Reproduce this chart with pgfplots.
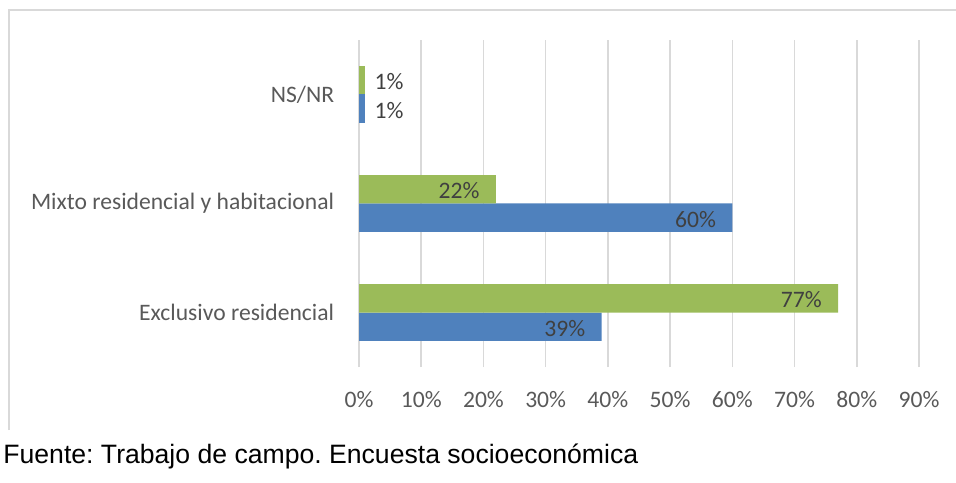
\documentclass[border=0pt]{standalone}
\usepackage{pgfplots}
\pgfplotsset{compat=1.18}
\usepackage{fontspec}
\setmainfont{Carlito}
\newfontfamily\arial{Liberation Sans}
\definecolor{cgreen}{HTML}{9BBB59}
\definecolor{cblue}{HTML}{4F81BD}
\definecolor{cgrid}{HTML}{D9D9D9}
\definecolor{ctick}{HTML}{595959}
\definecolor{clab}{HTML}{404040}

\begin{document}
\frenchspacing
\begin{tikzpicture}[x=1pt,y=1pt]
\useasboundingbox (0,0) rectangle (478,241);
\draw[cgrid, line width=0.75pt] (4.5,26) -- (4.5,236) -- (478,236);
\begin{axis}[
  at={(179.5pt,57.5pt)}, anchor=south west, scale only axis,
  width=280pt, height=163.5pt,
  xbar, bar width=0.26,
  xmin=0, xmax=90, ymin=-0.5, ymax=2.5,
  xtick={0,10,...,90},
  xticklabel={\pgfmathprintnumber{\tick}\%},
  ytick={0,1,2},
  yticklabels={Exclusivo residencial, Mixto residencial y habitacional, NS/NR},
  /pgf/number format/assume math mode=true,
  axis line style={draw=none}, tick style={draw=none},
  xmajorgrids, grid style={cgrid, line width=0.75pt},
  every tick label/.append style={font=\fontsize{11.8}{14}\selectfont, text=ctick},
  xticklabel style={inner sep=0pt, anchor=north, yshift=-12pt},
  yticklabel style={inner sep=0pt, anchor=east, xshift=-8pt},
  nodes near coords={\pgfmathprintnumber{\pgfplotspointmeta}\%},
  point meta=x,
  labin/.style={nodes near coords style={anchor=east, xshift=-8pt, yshift=-0.8pt, inner sep=0pt,
      font=\fontsize{11.8}{14}\selectfont, text=clab}},
  labout/.style={nodes near coords style={anchor=west, xshift=4.5pt, yshift=-0.8pt, inner sep=0pt,
      font=\fontsize{11.8}{14}\selectfont, text=clab}},
]
% blue series
\addplot[fill=cblue, draw=none, bar shift=-0.13, labin] coordinates {(39,0) (60,1)};
\addplot[fill=cblue, draw=none, bar shift=-0.13, labout] coordinates {(1,2)};
% green series
\addplot[fill=cgreen, draw=none, bar shift=0.13, labin] coordinates {(77,0) (22,1)};
\addplot[fill=cgreen, draw=none, bar shift=0.13, labout] coordinates {(1,2)};
\end{axis}
\node[anchor=base west, inner sep=0pt, font=\arial\fontsize{13.3}{15}\selectfont] at (1.5,9.3) {Fuente: Trabajo de campo. Encuesta socioeconómica};
\end{tikzpicture}
\end{document}
